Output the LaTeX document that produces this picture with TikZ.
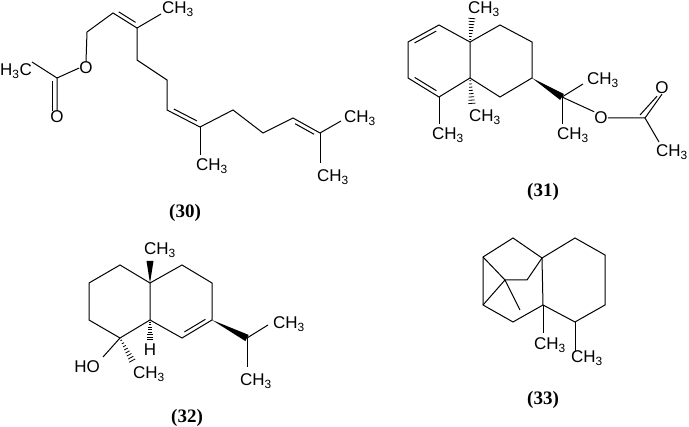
\documentclass[tikz,border=0pt]{standalone}
\usepackage{fontspec}
\setmainfont{Liberation Sans}
\newfontfamily\lblfont{Liberation Serif}
\usetikzlibrary{calc}
\tikzset{bond/.style={line width=1pt},
 atom/.style={inner sep=0pt,font=\fontsize{17}{17}\selectfont},
 caplbl/.style={font=\lblfont\bfseries\fontsize{19}{19}\selectfont}}
\newcommand\CHt{CH\textsubscript{3}}
\newcommand\dbl[3]{\path ($(#1)!0.15!(#2)$) coordinate (d1) ($(#1)!0.85!(#2)$) coordinate (d2);
 \draw[bond] ($(d1)!4pt!#3:(d2)$) -- ($(d2)!4pt!-#3:(d1)$);}
\newcommand\hashb[2]{\foreach \t in {0.1,0.22,...,0.95}{\pgfmathsetmacro\w{0.6+3*\t}
 \coordinate (hp) at ($(#1)!\t!(#2)$);
 \draw[line width=0.8pt] ($(hp)!\w pt!90:(#2)$) -- ($(hp)!\w pt!-90:(#2)$);}}
\newcommand\wedgeb[2]{\fill ($(#1)$) -- ($(#2)!3.5pt!90:(#1)$) -- ($(#2)!3.5pt!-90:(#1)$) -- cycle;}
\begin{document}
\begin{tikzpicture}[x=1pt,y=-1pt]
\useasboundingbox (0,0) rectangle (689,427);
% ---------- 30
\node[atom] (a1) at (16,71) {H\textsubscript{3}C};
\coordinate (c1) at (57,78);
\node[atom] (o1) at (57,117) {O};
\node[atom] (o2) at (86,68) {O};
\coordinate (c2) at (87,32); \coordinate (c3) at (113,13); \coordinate (c4) at (137,28);
\node[atom] (m1) at (178,9) {\CHt};
\coordinate (c5) at (137,60); \coordinate (c6) at (167,80); \coordinate (c7) at (167,110);
\coordinate (c8) at (200,127);
\node[atom] (m2) at (212,166) {\CHt};
\coordinate (c9) at (233,110); \coordinate (c10) at (263,133); \coordinate (c11) at (293,118);
\coordinate (c12) at (320,133);
\node[atom] (m3) at (360,118) {\CHt};
\node[atom] (m4) at (333,177) {\CHt};
\draw[bond] (32,62) -- (c1) -- (o1.north);
\draw[bond] ($(c1)+(-5,3)$) -- ($(o1.north)+(-5,0)$);
\draw[bond] (c1) -- (o2.west);
\draw[bond] (o2.north) -- (c2) -- (c3) -- (c4) -- (c5) -- (c6) -- (c7) -- (c8) -- (c9) -- (c10) -- (c11) -- (c12);
\dbl{c3}{c4}{90} \dbl{c7}{c8}{90} \dbl{c11}{c12}{-90}
\draw[bond] (c4) -- (161,14);
\draw[bond] (c8) -- (200,155);
\draw[bond] (c12) -- (341,121);
\draw[bond] (c12) -- (320,163);
\node[caplbl] (l30) at (185,213) {(30)};
% ---------- 31
\coordinate (r1) at (439,25); \coordinate (r2) at (408,42); \coordinate (r3) at (408,78);
\coordinate (r4) at (439,97); \coordinate (r5) at (470,78); \coordinate (r6) at (470,42);
\coordinate (r7) at (500,25); \coordinate (r8) at (532,42); \coordinate (r9) at (532,78);
\coordinate (r10) at (500,97); \coordinate (q) at (562,97);
\draw[bond] (r1) -- (r2) -- (r3) -- (r4) -- (r5) -- (r6) -- cycle;
\draw[bond] (r6) -- (r7) -- (r8) -- (r9) -- (r10) -- (r5);
\dbl{r1}{r2}{90} \dbl{r3}{r4}{90}
\node[atom] (n1) at (484,9) {\CHt};
\node[atom] (n2) at (485,117) {\CHt};
\node[atom] (n3) at (448,135) {\CHt};
\node[atom] (n4) at (603,80) {\CHt};
\node[atom] (n5) at (573,135) {\CHt};
\node[atom] (o3) at (601,118) {O};
\node[atom] (o4) at (662,88) {O};
\node[atom] (n6) at (672,152) {\CHt};
\coordinate (c31) at (645,118);
\hashb{r6}{472,17} \hashb{r5}{472,105}
\draw[bond] (r4) -- (439,124);
\wedgeb{r9}{q}
\draw[bond] (q) -- (583,84); \draw[bond] (q) -- (562,124); \draw[bond] (q) -- (o3.north west);
\draw[bond] (o3.east) -- (c31) -- (659,142);
\draw[bond] (c31) -- (o4.south); \draw[bond] ($(c31)+(-5,-3)$) -- ($(o4.south)+(-5,2)$);
\node[caplbl] (l31) at (543,192) {(31)};
% ---------- 32
\coordinate (s1) at (120,265); \coordinate (s2) at (89,283); \coordinate (s3) at (89,320);
\coordinate (s4) at (120,338); \coordinate (s5) at (150,320); \coordinate (s6) at (150,283);
\coordinate (s7) at (182,265); \coordinate (s8) at (212,283); \coordinate (s9) at (212,320);
\coordinate (s10) at (182,338); \coordinate (p) at (247,338);
\draw[bond] (s1) -- (s2) -- (s3) -- (s4) -- (s5) -- (s6) -- cycle;
\draw[bond] (s6) -- (s7) -- (s8) -- (s9) -- (s10) -- (s5);
\dbl{s9}{s10}{-90}
\node[atom] (k1) at (160,250) {\CHt};
\node[atom] (k2) at (150,350) {H};
\node[atom] (k3) at (87,367) {HO};
\node[atom] (k4) at (149,374) {\CHt};
\node[atom] (k5) at (289,324) {\CHt};
\node[atom] (k6) at (256,381) {\CHt};
\wedgeb{s6}{150,261}
\hashb{s5}{150,341}
\draw[bond] (s4) -- (103,357);
\hashb{s4}{133,362}
\wedgeb{s9}{p}
\draw[bond] (p) -- (268,325); \draw[bond] (p) -- (247,367);
\node[caplbl] (l32) at (187,418) {(32)};
% ---------- 33
\coordinate (t1) at (542,258); \coordinate (t2) at (575,238); \coordinate (t3) at (605,255);
\coordinate (t4) at (605,305); \coordinate (t5) at (575,322); \coordinate (t6) at (543,305);
\coordinate (u1) at (513,238); \coordinate (u2) at (483,257); \coordinate (u3) at (483,305);
\coordinate (u4) at (513,322); \coordinate (u5) at (527,280); \coordinate (u6) at (505,280);
\coordinate (u7) at (520,310);
\draw[bond] (t1) -- (t2) -- (t3) -- (t4) -- (t5) -- (t6) -- cycle;
\draw[bond] (t1) -- (u1) -- (u2) -- (u3) -- (u4) -- (t6);
\draw[bond] (t1) -- (u5) -- (u6);
\draw[bond] (u2) -- (u6) -- (u3);
\draw[bond] (u6) -- (u7);
\node[atom] (w1) at (550,345) {\CHt};
\node[atom] (w2) at (587,358) {\CHt};
\draw[bond] (t6) -- (543,333); \draw[bond] (t5) -- (575,351);
\node[caplbl] (l33) at (543,400) {(33)};
\end{tikzpicture}
\end{document}
